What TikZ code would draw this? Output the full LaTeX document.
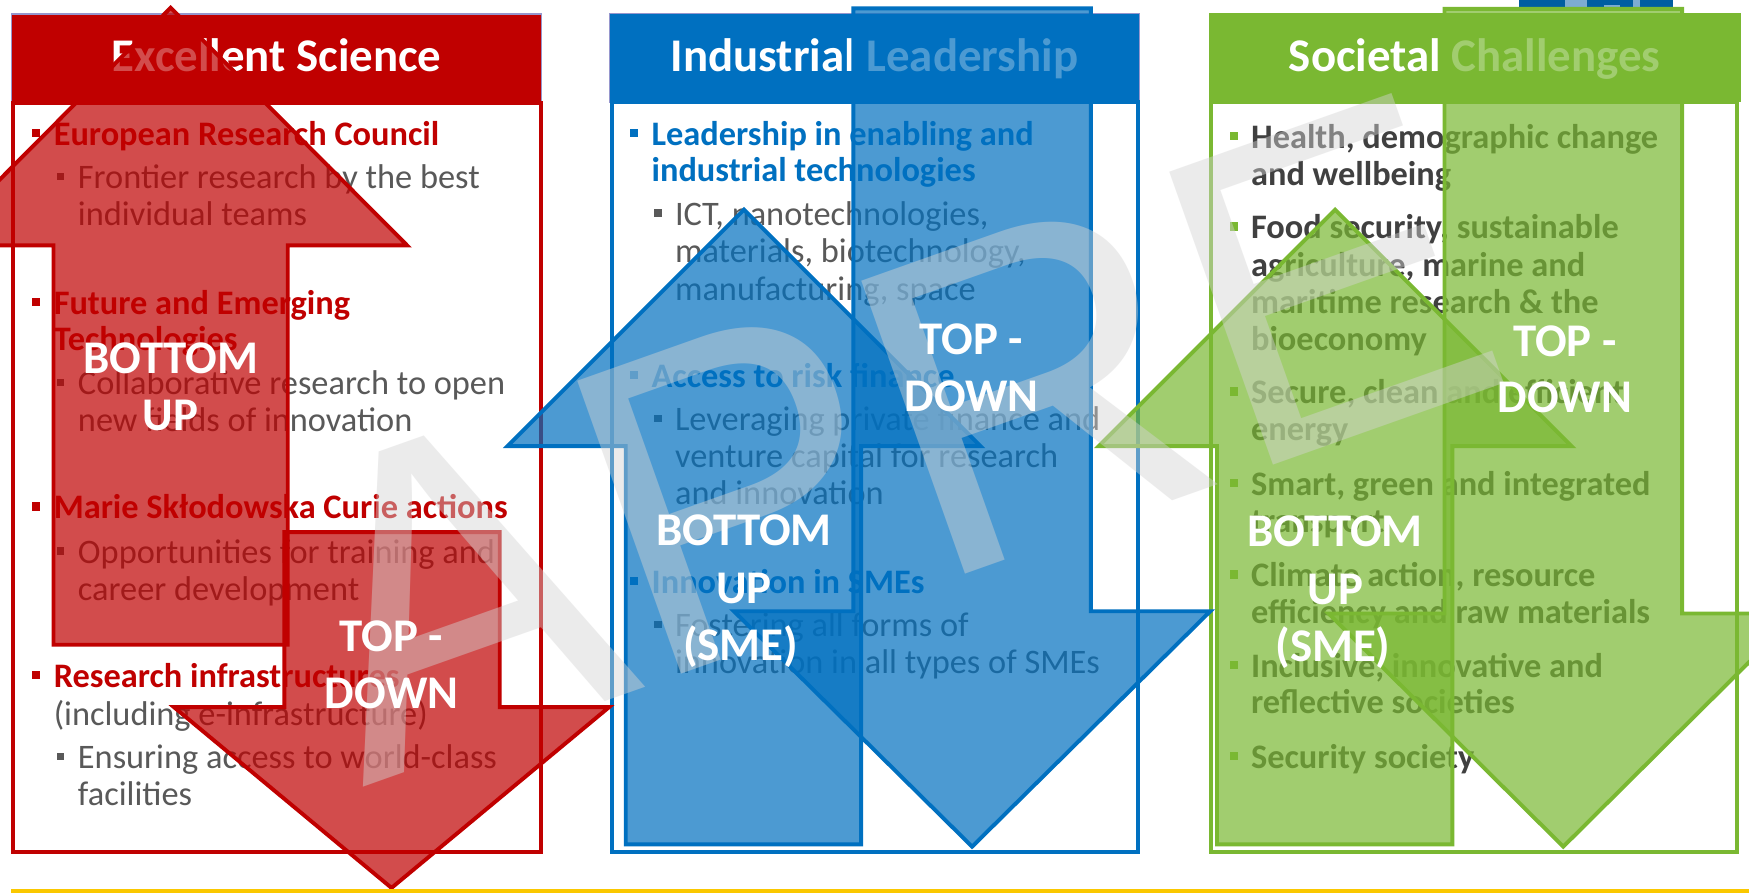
\documentclass[tikz,border=0pt]{standalone}
\usepackage{fontspec}
\setmainfont{Carlito}
\newfontfamily\wmfont{Liberation Sans}
\definecolor{esred}{RGB}{192,0,0}
\definecolor{ilblue}{RGB}{0,112,192}
\definecolor{scgreen}{RGB}{122,184,50}
\definecolor{txtgray}{RGB}{89,89,89}
\definecolor{dkgray}{RGB}{64,64,64}
\definecolor{lavender}{RGB}{150,150,205}
\definecolor{wmgray}{RGB}{212,212,212}
\definecolor{yell}{RGB}{250,200,0}
\definecolor{logoblue}{RGB}{0,94,160}
\definecolor{logolight}{RGB}{125,172,210}
\begin{document}
\begin{tikzpicture}[x=1pt,y=-1pt,
  hdrbox/.style={fill=#1},
  bodybox/.style={draw=#1, line width=3.6pt},
  title/.style={inner sep=0, anchor=base, text=white, font=\fontsize{42}{50}\selectfont\bfseries},
  mainln/.style={inner sep=0, anchor=base west, text=#1, font=\fontsize{30.8}{32}\selectfont\bfseries},
  subln/.style={inner sep=0, anchor=base west, text=txtgray, font=\fontsize{30.8}{32}\selectfont},
  bul/.style={minimum size=7.5pt, inner sep=0, fill=#1},
  sbul/.style={minimum size=6.5pt, inner sep=0, fill=txtgray},
  arr/.style={fill=#1, fill opacity=0.7, draw=#1, line width=3.5pt, line join=miter},
  lbl/.style={inner sep=0, anchor=base, text=white, font=\fontsize{42}{50}\selectfont\bfseries},
  wm/.style={inner sep=0, text=wmgray, text opacity=0.45, font=\wmfont\fontsize{405}{405}\selectfont}
]
\useasboundingbox (0,0) rectangle (1568,801);
\clip (0,0) rectangle (1568,801);
\fill[white] (0,0) rectangle (1568,801);

% logo fragment
\fill[logoblue] (1362,0) rectangle (1500,8);
\fill[logolight] (1403,0) rectangle (1423,8);
\fill[logolight] (1464,0) rectangle (1470,8);
\fill[logolight] (1438,4.5) rectangle (1452,8);

% headers
\path[hdrbox=esred, draw=lavender, line width=1.2pt] (10.3,12.5) rectangle (485.5,92.5);
\path[hdrbox=ilblue, draw=lavender, line width=1.2pt] (546.5,12) rectangle (1021.7,91.5);
\path[hdrbox=scgreen] (1084,11.4) rectangle (1560.5,91.5);
\node[title] (t1) at (248,64) {Excellent Science};
\node[title] (t2) at (784,64) {Industrial Leadership};
\node[title] (t3) at (1322,64) {Societal Challenges};

% body boxes
\draw[bodybox=esred] (12,92.5) rectangle (485,764);
\draw[bodybox=ilblue] (548.3,91.5) rectangle (1020,764);
\draw[bodybox=scgreen] (1086,91.5) rectangle (1557,764);

% column 1 text
\node[bul=esred] (b11) at (32.5,119) {};
\node[mainln=esred] (c1a) at (48,130) {European Research Council};
\node[sbul] (s11) at (54.5,158) {};
\node[subln] (c1b) at (69.7,169) {Frontier research by the best};
\node[subln] (c1c) at (69.7,202) {individual teams};
\node[bul=esred] (b12) at (32.5,271) {};
\node[mainln=esred] (c1d) at (48,282) {Future and Emerging};
\node[mainln=esred] (c1e) at (48,314) {Technologies};
\node[sbul] (s12) at (54.5,343) {};
\node[subln] (c1f) at (69.7,354) {Collaborative research to open};
\node[subln] (c1g) at (69.7,387) {new fields of innovation};
\node[bul=esred] (b13) at (32.5,454) {};
\node[mainln=esred] (c1h) at (48,465) {Marie Skłodowska Curie actions};
\node[sbul] (s13) at (54.5,494) {};
\node[subln] (c1i) at (69.7,505) {Opportunities for training and};
\node[subln] (c1j) at (69.7,538) {career development};
\node[bul=esred] (b14) at (32.5,605) {};
\node[mainln=esred] (c1k) at (48,616) {Research infrastructures};
\node[subln] (c1l) at (48,650) {(including e-infrastructure)};
\node[sbul] (s14) at (54.5,678) {};
\node[subln] (c1m) at (69.7,689) {Ensuring access to world-class};
\node[subln] (c1n) at (69.7,722) {facilities};

% column 2 text
\node[bul=ilblue] (b21) at (568.5,119) {};
\node[mainln=ilblue] (c2a) at (584,130) {Leadership in enabling and};
\node[mainln=ilblue] (c2b) at (584,163) {industrial technologies};
\node[sbul] (s21) at (590,191) {};
\node[subln] (c2c) at (605,202) {ICT, nanotechnologies,};
\node[subln] (c2d) at (605,235) {materials, biotechnology,};
\node[subln] (c2e) at (605,269) {manufacturing, space};
\node[bul=ilblue] (b22) at (568.5,336) {};
\node[mainln=ilblue] (c2f) at (584,347) {Access to risk finance};
\node[sbul] (s22) at (590,375) {};
\node[subln] (c2g) at (605,386) {Leveraging private finance and};
\node[subln] (c2h) at (605,419) {venture capital for research};
\node[subln] (c2i) at (605,452) {and innovation};
\node[bul=ilblue] (b23) at (568.5,521) {};
\node[mainln=ilblue] (c2j) at (584,532) {Innovation in SMEs};
\node[sbul] (s23) at (590,560) {};
\node[subln] (c2k) at (605,571) {Fostering all forms of};
\node[subln] (c2l) at (605,604) {innovation in all types of SMEs};

% column 3 text
\foreach \yy in {122,203,351,433,515,596,678}
  \node[bul=scgreen] (b3-\yy) at (1106,\yy) {};
\foreach \yy/\tt [count=\i] in {133/{Health, demographic change}, 166/{and wellbeing},
  214/{Food security, sustainable}, 248/{agriculture, marine and},
  281/{maritime research \& the}, 314/{bioeconomy},
  362/{Secure, clean and efficient}, 395/{energy},
  444/{Smart, green and integrated}, 477/{transport},
  526/{Climate action, resource}, 559/{efficiency and raw materials},
  607/{Inclusive, innovative and}, 640/{reflective societies},
  689/{Security society}}
  \node[mainln=dkgray] (c3-\i) at (1121.4,\yy) {\tt};

% arrows
\draw[arr=esred] (48,578) -- (48,220) -- (-59,220) -- (153,7) -- (365,220) -- (258,220) -- (258,578) -- cycle;
\draw[arr=esred] (255,477) -- (448,477) -- (448,634) -- (546,634) -- (351,796) -- (156,634) -- (255,634) -- cycle;
\draw[arr=ilblue] (561,757) -- (561,400) -- (455,400) -- (667,188) -- (879,400) -- (772,400) -- (772,757) -- cycle;
\draw[arr=ilblue] (765,7.5) -- (978,7.5) -- (978,548) -- (1085,548) -- (871.5,759) -- (658,548) -- (765,548) -- cycle;
\draw[arr=scgreen] (1091,757) -- (1091,400) -- (985,400) -- (1197,188) -- (1409,400) -- (1302,400) -- (1302,757) -- cycle;
\draw[arr=scgreen] (1295,8) -- (1508,8) -- (1508,550) -- (1612,550) -- (1401.5,759) -- (1191,550) -- (1295,550) -- cycle;

% watermark
\node[wm, rotate=19.5, anchor=base west] (wmark) at (325,706) {APRE};

% arrow labels
\node[lbl] (r1a) at (153,335) {BOTTOM};
\node[lbl] (r1b) at (153,386) {UP};
\node[lbl] (r2a) at (351,584) {TOP -};
\node[lbl] (r2b) at (351,635) {DOWN};
\node[lbl] (u1a) at (667,489) {BOTTOM};
\node[lbl] (u1b) at (667,541) {UP};
\node[lbl] (u1c) at (664,592) {(SME)};
\node[lbl] (u2a) at (871,318) {TOP -};
\node[lbl] (u2b) at (871,369) {DOWN};
\node[lbl] (g1a) at (1197,490) {BOTTOM};
\node[lbl] (g1b) at (1197,542) {UP};
\node[lbl] (g1c) at (1195,593) {(SME)};
\node[lbl] (g2a) at (1403,320) {TOP -};
\node[lbl] (g2b) at (1403,370) {DOWN};

% bottom rule
\fill[yell] (10,797) rectangle (1568,801);
\end{tikzpicture}
\end{document}
